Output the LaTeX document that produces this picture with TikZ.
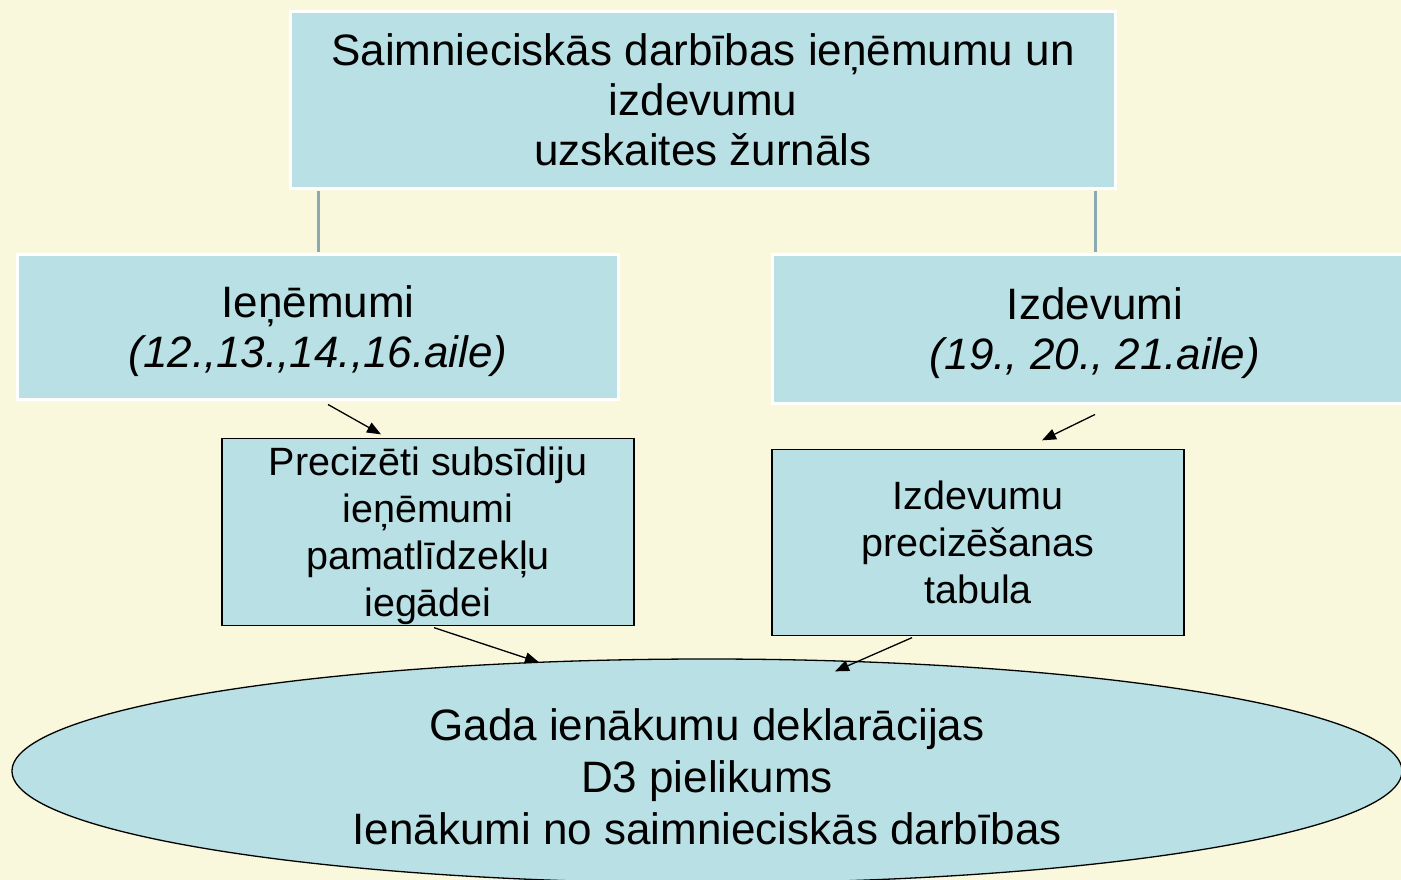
\documentclass[tikz,border=0pt]{standalone}
\usepackage{fontspec}
\setmainfont{Liberation Sans}
\usetikzlibrary{arrows.meta,shapes.geometric,calc}
\definecolor{bg}{RGB}{250,248,220}
\definecolor{boxfill}{RGB}{185,224,228}
\definecolor{vlinecol}{RGB}{140,168,178}
\newcommand{\lowerby}[1]{\rule{0pt}{#1}}
\begin{document}
\begin{tikzpicture}[x=1pt,y=-1pt,
  lvlone/.style={rectangle, draw=white, line width=3pt, fill=boxfill, align=center, inner sep=0pt, font=\fontsize{44}{50}\selectfont},
  lvltwo/.style={rectangle, draw=black, line width=1.3pt, fill=boxfill, align=center, inner sep=0pt, font=\fontsize{39.5}{47}\selectfont},
  ellbox/.style={ellipse, draw=black, line width=1.3pt, fill=boxfill, align=center, inner sep=0pt, font=\fontsize{44}{52}\selectfont},
  arr/.style={line width=1.3pt, -{Triangle[length=14pt,width=11pt]}},
  vconn/.style={draw=vlinecol, line width=3pt}]
\useasboundingbox (0,0) rectangle (1401,880);
\fill[bg] (0,0) rectangle (1401,880);
\clip (0,0) rectangle (1401,880);

\node[lvlone, minimum width=825pt, minimum height=177pt] (top) at (703,100)
  {Saimnieciskās darbības ieņēmumu un\\izdevumu\\uzskaites žurnāls};
\node[lvlone, minimum width=601pt, minimum height=145pt] (lbox) at (318,327)
  {\lowerby{41pt}Ieņēmumi\\\textit{(12.,13.,14.,16.aile)}};
\node[lvlone, minimum width=645pt, minimum height=149pt] (rbox) at (1095,329)
  {\lowerby{41pt}Izdevumi\\\textit{(19., 20., 21.aile)}};
\node[lvltwo, minimum width=412pt, minimum height=187pt] (pbox) at (428,532)
  {\lowerby{37pt}Precizēti subsīdiju\\ieņēmumi\\pamatlīdzekļu\\iegādei};
\node[lvltwo, minimum width=412pt, minimum height=186pt] (ibox) at (978,542.5)
  {Izdevumu\\precizēšanas\\tabula};
\node[ellbox, minimum width=1390pt, minimum height=224pt] (ell) at (707,771)
  {\lowerby{43pt}Gada ienākumu deklarācijas\\D3 pielikums\\Ienākumi no saimnieciskās darbības};

\draw[vconn, shorten <=1.5pt, shorten >=1.5pt] (top.south -| lbox.north) -- (lbox.north);
\draw[vconn, shorten <=1.5pt, shorten >=1.5pt] (top.south -| rbox.north) -- (rbox.north);

\draw[arr] ($(lbox.south)+(10,3.5)$) -- ($(pbox.north)+(-47,-3.5)$);
\draw[arr] ($(rbox.south)+(0,9.5)$) -- ($(ibox.north)+(64,-8.5)$);
\draw[arr] ($(pbox.south)+(6,1.5)$) -- ($(ell.north)+(-168,4)$);
\draw[arr] ($(ibox.south)+(-66,1.5)$) -- ($(ell.north)+(128,13)$);
\end{tikzpicture}
\end{document}
